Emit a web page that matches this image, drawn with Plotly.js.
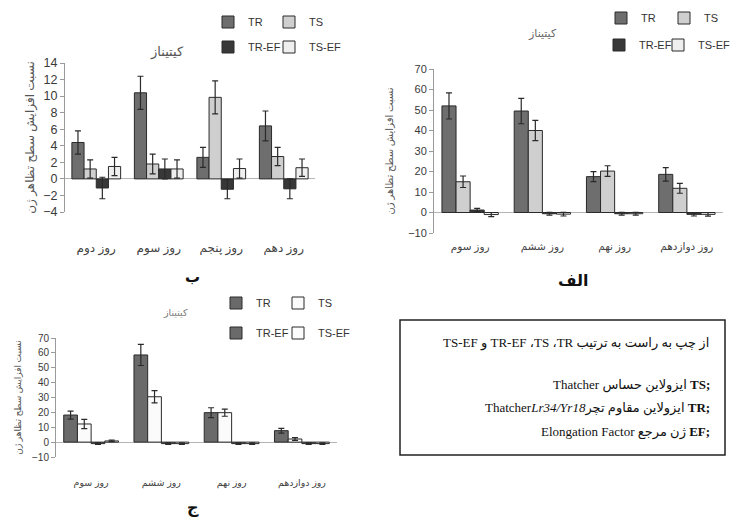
<!DOCTYPE html>
<html>
<head>
<meta charset="utf-8">
<script src="https://cdn.plot.ly/plotly-3.0.1.min.js"></script>
<style>html,body{margin:0;padding:0;background:#fff;}#chart{width:732px;height:520px;}</style>
</head>
<body>
<div id="chart"></div>
<script>
// ---------- DATA ----------
const seriesNames = ['TR', 'TS', 'TR-EF', 'TS-EF'];

// Panel ب (top-left)
const catsB = ['روز دوم', 'روز سوم', 'روز پنجم', 'روز دهم'];
const bTR = [4.4, 10.4, 2.6, 6.4];
const bTRerr = [1.4, 2.0, 1.2, 1.8];
const bTS = [1.2, 1.8, 9.85, 2.7];
const bTSerr = [1.1, 1.2, 2.0, 1.1];
const bTREF = [-1.1, 1.2, -1.25, -1.2];
const bTREFerr = [1.3, 1.2, 1.15, 1.2];
const bTSEF = [1.5, 1.2, 1.25, 1.35];
const bTSEFerr = [1.1, 1.1, 1.15, 1.05];

// Panel الف (top-right)
const catsA = ['روز سوم', 'روز ششم', 'روز نهم', 'روز دوازدهم'];
const aTR = [52, 49.5, 17.5, 18.6];
const aTRerr = [6.4, 6.2, 2.4, 3.3];
const aTS = [15, 40, 20.2, 11.8];
const aTSerr = [2.8, 4.9, 2.6, 2.4];
const aTREF = [1.2, -0.6, -0.6, -0.9];
const aTREFerr = [0.8, 0.7, 0.7, 0.8];
const aTSEF = [-1.0, -0.8, -0.6, -0.9];
const aTSEFerr = [1.0, 0.9, 0.7, 0.9];

// Panel ج (bottom-left)
const catsJ = ['روز سوم', 'روز ششم', 'روز نهم', 'روز دوازدهم'];
const jTR = [18.2, 58.6, 19.8, 7.7];
const jTRerr = [2.7, 7.1, 3.3, 1.6];
const jTS = [12.2, 30.5, 19.8, 2.1];
const jTSerr = [3.1, 4.1, 2.4, 0.9];
const jTREF = [-1.0, -1.0, -1.0, -1.0];
const jTREFerr = [0.5, 0.5, 0.5, 0.5];
const jTSEF = [0.8, -1.0, -1.0, -1.0];
const jTSEFerr = [0.5, 0.5, 0.5, 0.5];

const titleText = 'کیتیناز';
const yTitle = 'نسبت افزایش سطح تظاهر ژن';
const panelLabels = ['ب', 'الف', 'ج'];
// written in visual order (LTR base)
const boxLines = [
  'TS-EF و TR-EF ،TS ،TR از چپ به راست به ترتیب',
  'Thatcher ایزولاین حساس <b>TS;</b>',
  'Thatcher<i>Lr34/Yr18</i>ایزولاین مقاوم تچر <b>TR;</b>',
  'Elongation Factor ژن مرجع <b>EF;</b>'
];

// ---------- STYLE ----------
const W = 732, H = 520;
const px = v => v / W;
const py = v => 1 - v / H;
const FONT = 'Liberation Sans, Arial, DejaVu Sans, sans-serif';
const SERIF = 'Liberation Serif, Times New Roman, DejaVu Sans, serif';

function bar(name, cats, vals, errs, color, xa, ya, legend) {
  return {
    type: 'bar', name: name, x: cats, y: vals,
    xaxis: xa, yaxis: ya, legend: legend, showlegend: true,
    marker: {color: color, line: {color: '#2a2a2a', width: 1}},
    error_y: {type: 'data', array: errs, visible: true, color: '#2a2a2a', thickness: 1.2, width: 3},
    hoverinfo: 'x+y+name'
  };
}

const colB = ['#6e6e6e', '#cfcfcf', '#383838', '#efefef'];
const colA = ['#6e6e6e', '#cfcfcf', '#383838', '#efefef'];
const colJ = ['#6a6a6a', '#fbfbfb', '#6a6a6a', '#fbfbfb'];

const data = [
  bar(seriesNames[0], catsB, bTR, bTRerr, colB[0], 'x', 'y', 'legend'),
  bar(seriesNames[1], catsB, bTS, bTSerr, colB[1], 'x', 'y', 'legend2'),
  bar(seriesNames[2], catsB, bTREF, bTREFerr, colB[2], 'x', 'y', 'legend3'),
  bar(seriesNames[3], catsB, bTSEF, bTSEFerr, colB[3], 'x', 'y', 'legend4'),
  bar(seriesNames[0], catsA, aTR, aTRerr, colA[0], 'x2', 'y2', 'legend5'),
  bar(seriesNames[1], catsA, aTS, aTSerr, colA[1], 'x2', 'y2', 'legend6'),
  bar(seriesNames[2], catsA, aTREF, aTREFerr, colA[2], 'x2', 'y2', 'legend7'),
  bar(seriesNames[3], catsA, aTSEF, aTSEFerr, colA[3], 'x2', 'y2', 'legend8'),
  bar(seriesNames[0], catsJ, jTR, jTRerr, colJ[0], 'x3', 'y3', 'legend9'),
  bar(seriesNames[1], catsJ, jTS, jTSerr, colJ[1], 'x3', 'y3', 'legend10'),
  bar(seriesNames[2], catsJ, jTREF, jTREFerr, colJ[2], 'x3', 'y3', 'legend11'),
  bar(seriesNames[3], catsJ, jTSEF, jTSEFerr, colJ[3], 'x3', 'y3', 'legend12')
];

function xax(domain, anchor, size, standoff) {
  return {
    domain: domain, anchor: anchor, type: 'category',
    showline: false, ticks: '', showgrid: false, zeroline: false,
    tickfont: {family: FONT, size: size, color: '#444'},
    ticklabelstandoff: standoff, fixedrange: true
  };
}
function yax(domain, anchor, range, dtick, size, tsize, standoff) {
  return {
    domain: domain, anchor: anchor, range: range, dtick: dtick,
    showline: true, linecolor: '#9a9a9a', linewidth: 1,
    ticks: 'outside', ticklen: 4, tickcolor: '#9a9a9a',
    showgrid: false, zeroline: true, zerolinecolor: '#b5b5b5', zerolinewidth: 1,
    tickfont: {family: FONT, size: size, color: '#3a3a3a'},
    title: {text: yTitle, font: {family: FONT, size: tsize, color: '#555'}, standoff: standoff},
    fixedrange: true
  };
}

// legend box position from the swatch centre (cx, cy) in pixels
function leg(cx, cy, size, shift) {
  return {
    x: px(cx - shift), y: py(cy), xanchor: 'left', yanchor: 'middle', orientation: 'h',
    bgcolor: 'rgba(0,0,0,0)', borderwidth: 0,
    font: {family: FONT, size: size, color: '#333'},
    itemwidth: 30, itemclick: false, itemdoubleclick: false
  };
}

function ann(text, x, y, size, color, family, xanchor) {
  return {text: text, xref: 'paper', yref: 'paper', x: px(x), y: py(y),
    xanchor: xanchor || 'center', yanchor: 'middle', showarrow: false,
    font: {family: family || FONT, size: size, color: color}};
}

const layout = {
  width: W, height: H,
  margin: {l: 0, r: 0, t: 0, b: 0, pad: 0, autoexpand: false},
  paper_bgcolor: '#fff', plot_bgcolor: 'rgba(0,0,0,0)',
  barmode: 'group', bargap: 0.22, bargroupgap: 0,
  font: {family: FONT},
  xaxis: xax([px(65), px(315)], 'y', 12, 27),
  yaxis: yax([py(212), py(63)], 'x', [-4, 14], 2, 12.5, 12, 6),
  xaxis2: xax([px(434), px(723)], 'y2', 10.5, 5),
  yaxis2: yax([py(233), py(69)], 'x2', [-10, 70], 10, 11, 10, 12),
  xaxis3: xax([px(56), px(337)], 'y3', 9.5, 18),
  yaxis3: yax([py(457), py(338)], 'x3', [-10, 70], 10, 10, 9, 8),
  legend: leg(235, 22, 11, 27),
  legend2: leg(291, 22, 11, 22),
  legend3: leg(235, 47, 11, 27),
  legend4: leg(291, 47, 11, 22),
  legend5: leg(628, 18, 11, 27),
  legend6: leg(686, 18, 11, 22),
  legend7: leg(626, 45, 11, 27),
  legend8: leg(680, 45, 11, 22),
  legend9: leg(243, 303, 11, 27),
  legend10: leg(300, 303, 11, 22),
  legend11: leg(243, 333, 11, 27),
  legend12: leg(300, 333, 11, 22),
  annotations: [
    ann(titleText, 167, 52, 13, '#555'),
    ann(titleText, 542, 33, 11, '#666'),
    ann(titleText, 175, 312, 9.5, '#777'),
    ann('<b>' + panelLabels[0] + '</b>', 192, 276, 15, '#111'),
    ann('<b>' + panelLabels[1] + '</b>', 573, 280, 16, '#111'),
    ann('<b>' + panelLabels[2] + '</b>', 193, 508, 16, '#111'),
    ann(boxLines[0], 711, 343, 13, '#111', SERIF, 'right'),
    ann(boxLines[1], 712, 385, 13, '#111', SERIF, 'right'),
    ann(boxLines[2], 712, 408, 13, '#111', SERIF, 'right'),
    ann(boxLines[3], 712, 432, 13, '#111', SERIF, 'right')
  ],
  shapes: [
    {type: 'rect', xref: 'paper', yref: 'paper', x0: px(400), x1: px(725), y0: py(455), y1: py(320), line: {color: '#222', width: 1.5}}
  ],
  showlegend: true
};

Plotly.newPlot('chart', data, layout, {displayModeBar: false, staticPlot: true});
</script>
</body>
</html>
